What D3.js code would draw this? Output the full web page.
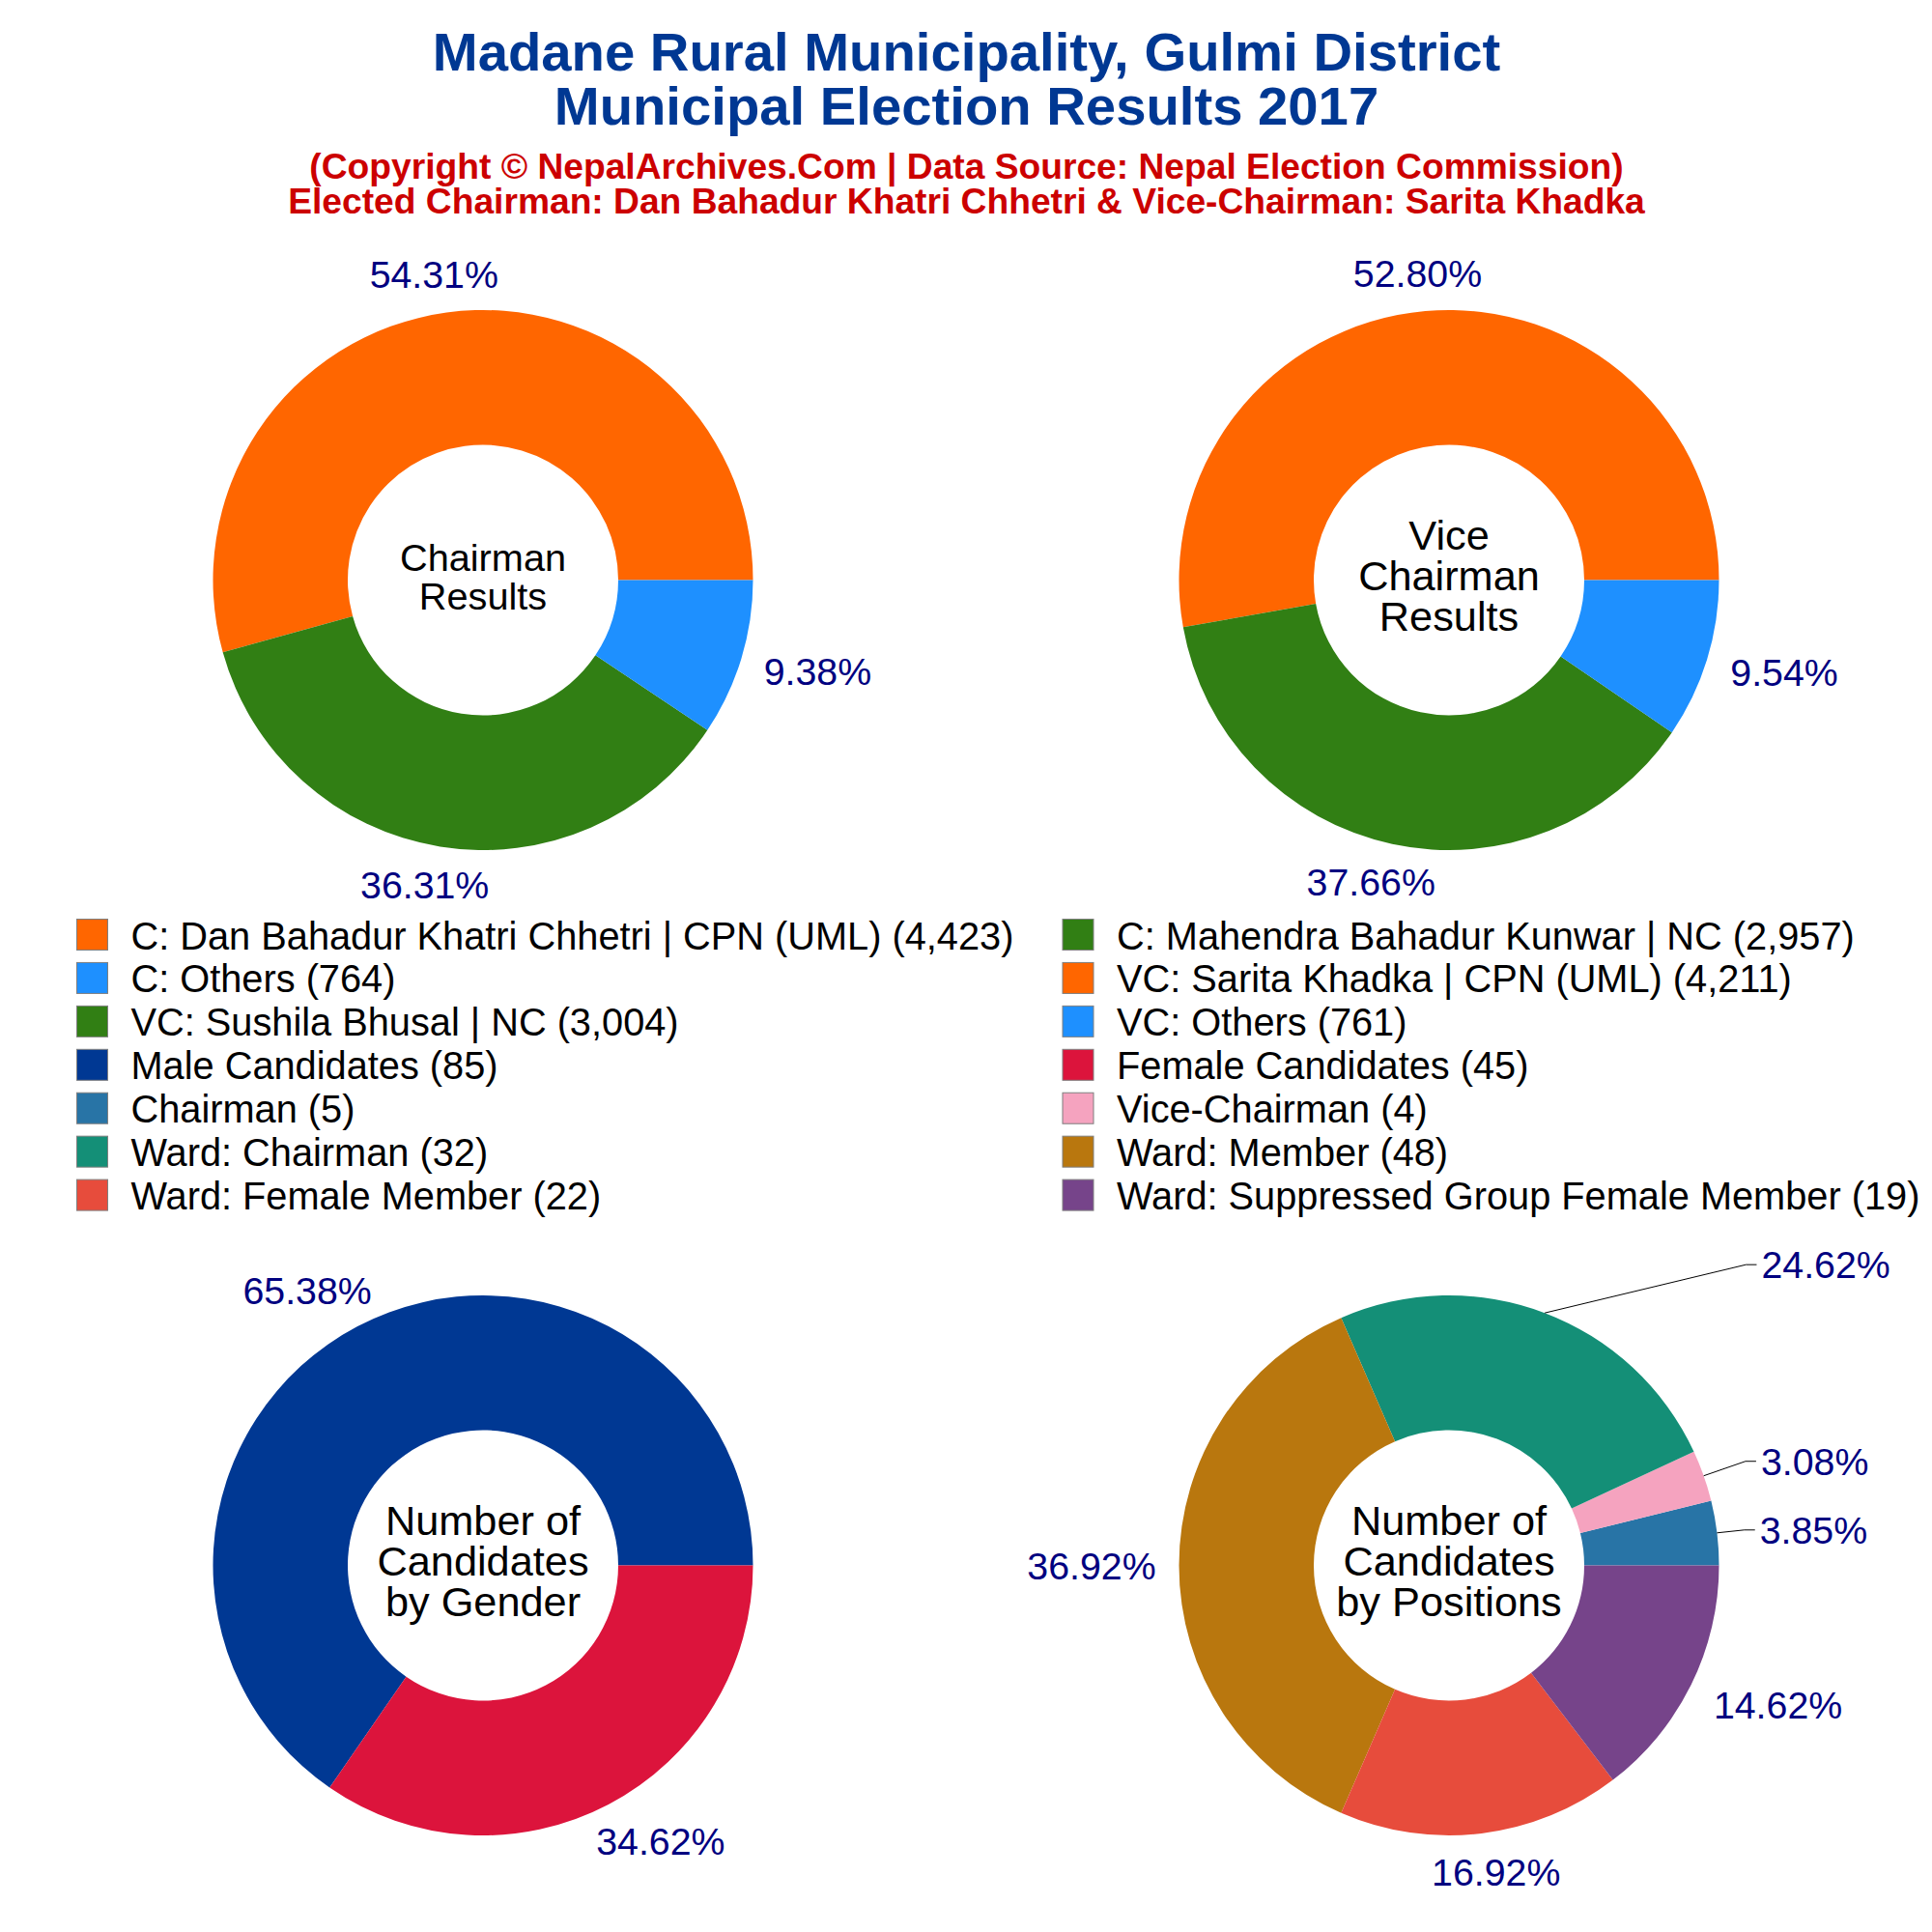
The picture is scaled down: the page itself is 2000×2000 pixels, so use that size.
<!DOCTYPE html>
<html>
<head>
<meta charset="utf-8">
<script src="https://cdnjs.cloudflare.com/ajax/libs/d3/7.8.5/d3.min.js"></script>
<style>
  html, body { margin: 0; padding: 0; background: #fff; }
  svg { display: block; }
  text { font-family: "Liberation Sans", Arial, sans-serif; }
</style>
</head>
<body>
<svg id="chart" width="2000" height="2000"></svg>
<script>
/*** DATA ***/
var chairmanLabels = ['C: Dan Bahadur Khatri Chhetri | CPN (UML)', 'C: Mahendra Bahadur Kunwar | NC', 'C: Others'];
var chairmanValues = [4423, 2957, 764];
var viceLabels = ['VC: Sarita Khadka | CPN (UML)', 'VC: Sushila Bhusal | NC', 'VC: Others'];
var viceValues = [4211, 3004, 761];
var genderLabels = ['Male Candidates', 'Female Candidates'];
var genderValues = [85, 45];
var positionLabels = ['Chairman', 'Vice-Chairman', 'Ward: Chairman', 'Ward: Member', 'Ward: Female Member', 'Ward: Suppressed Group Female Member'];
var positionValues = [5, 4, 32, 48, 22, 19];

/*** COLORS ***/
var voteColors = ['#FF6600', '#317F14', '#1E90FF'];
var genderColors = ['#003893', '#DC143C'];
var positionColors = ['#2874A6', '#F5A3BF', '#148F77', '#B9770E', '#E74C3C', '#76448A'];

/*** LAYOUT ***/
var outerRadius = 279.5;
var innerRadius = 140;
var percentFont = 39.3;
var legendFont = 39.75;
var panels = [
  {cx: 500, cy: 600.5, labels: chairmanLabels, values: chairmanValues, colors: voteColors,
   center: ['Chairman', 'Results'], centerFont: 39.7, centerGap: 39.5,
   offsets: [[-13,-40], [-16,39], [79,13]], leaders: []},
  {cx: 1500, cy: 600.5, labels: viceLabels, values: viceValues, colors: voteColors,
   center: ['Vice', 'Chairman', 'Results'], centerFont: 43.3, centerGap: 41.7,
   offsets: [[-8,-39], [-22,39], [80,13]], leaders: []},
  {cx: 500, cy: 1620.5, labels: genderLabels, values: genderValues, colors: genderColors,
   center: ['Number of', 'Candidates', 'by Gender'], centerFont: 43.3, centerGap: 41.7,
   offsets: [[-52,-37], [54,38]], leaders: []},
  {cx: 1500, cy: 1620.5, labels: positionLabels, values: positionValues, colors: positionColors,
   center: ['Number of', 'Candidates', 'by Positions'], centerFont: 43.3, centerGap: 41.7,
   offsets: [[100,-3], [115,-15], [291,-50], [-90.5,0], [15,40], [90,20]], leaders: [0, 1, 2]}
];

var svg = d3.select('#chart');

//titles
function drawTitle(str, y, size, color) {
  svg.append('text')
    .attr('x', 1000.5)
    .attr('y', y)
    .attr('text-anchor', 'middle')
    .attr('font-size', size)
    .attr('font-weight', 'bold')
    .attr('fill', color)
    .text(str);
}
drawTitle('Madane Rural Municipality, Gulmi District', 72.5, 56.25, '#003893');
drawTitle('Municipal Election Results 2017', 129, 56.25, '#003893');
drawTitle('(Copyright © NepalArchives.Com | Data Source: Nepal Election Commission)', 184.5, 37.2, '#CC0000');
drawTitle('Elected Chairman: Dan Bahadur Khatri Chhetri & Vice-Chairman: Sarita Khadka', 220.5, 37.2, '#CC0000');

//donuts
var pie = d3.pie().sort(null).startAngle(Math.PI / 2).endAngle(Math.PI / 2 - 2 * Math.PI);
var arc = d3.arc().innerRadius(innerRadius).outerRadius(outerRadius);
var percent = d3.format('.2%');

panels.forEach(function(p) {
  var g = svg.append('g').attr('transform', 'translate(' + p.cx + ',' + p.cy + ')');
  var total = d3.sum(p.values);
  var slices = pie(p.values);

  g.selectAll('path.slice')
    .data(slices)
    .enter().append('path')
    .attr('class', 'slice')
    .attr('d', arc)
    .attr('fill', function(d, i) { return p.colors[i]; });

  //percent labels, placed relative to the slice's point on the outer edge
  slices.forEach(function(d, i) {
    var mid = (d.startAngle + d.endAngle) / 2;
    var ax = outerRadius * Math.sin(mid);
    var ay = -outerRadius * Math.cos(mid);
    var lx = ax + p.offsets[i][0];
    var ly = ay + p.offsets[i][1];
    var label = g.append('text')
      .attr('x', lx)
      .attr('y', ly + percentFont * 0.36)
      .attr('text-anchor', 'middle')
      .attr('font-size', percentFont)
      .attr('fill', '#000080')
      .text(percent(d.value / total));

    if (p.leaders.indexOf(i) > -1) {
      var left = lx - label.node().getComputedTextLength() / 2;
      g.append('polyline')
        .attr('points', [[ax, ay], [left - 16, ly], [left - 5, ly]].join(' '))
        .attr('fill', 'none')
        .attr('stroke', '#000')
        .attr('stroke-width', 1);
    }
  });

  //center text
  p.center.forEach(function(line, i) {
    g.append('text')
      .attr('y', 10.5 + (i - (p.center.length - 1) / 2) * p.centerGap)
      .attr('text-anchor', 'middle')
      .attr('font-size', p.centerFont)
      .attr('fill', '#000')
      .text(line);
  });
});

//legend, filled row by row across two columns
var legendLabels = [].concat(chairmanLabels, viceLabels, genderLabels, positionLabels);
var legendValues = [].concat(chairmanValues, viceValues, genderValues, positionValues);
var legendColors = [].concat(voteColors, voteColors, genderColors, positionColors);
var legendColumn = d3.scaleOrdinal().domain([0, 1]).range([79, 1099.5]);
var legendRow = d3.scaleLinear().domain([0, 6]).range([951, 1220.6]);
var comma = d3.format(',');

var legend = svg.selectAll('g.legend-item')
  .data(legendLabels)
  .enter().append('g')
  .attr('class', 'legend-item')
  .attr('transform', function(d, i) {
    return 'translate(' + legendColumn(i % 2) + ',' + legendRow(Math.floor(i / 2)) + ')';
  });

legend.append('rect')
  .attr('x', 0.5)
  .attr('y', 0.5)
  .attr('width', 32)
  .attr('height', 32)
  .attr('fill', function(d, i) { return legendColors[i]; })
  .attr('stroke', '#7f7f7f')
  .attr('stroke-width', 1);

legend.append('text')
  .attr('x', 56.5)
  .attr('y', 31.5)
  .attr('font-size', legendFont)
  .attr('fill', '#000')
  .text(function(d, i) { return d + ' (' + comma(legendValues[i]) + ')'; });
</script>
</body>
</html>
